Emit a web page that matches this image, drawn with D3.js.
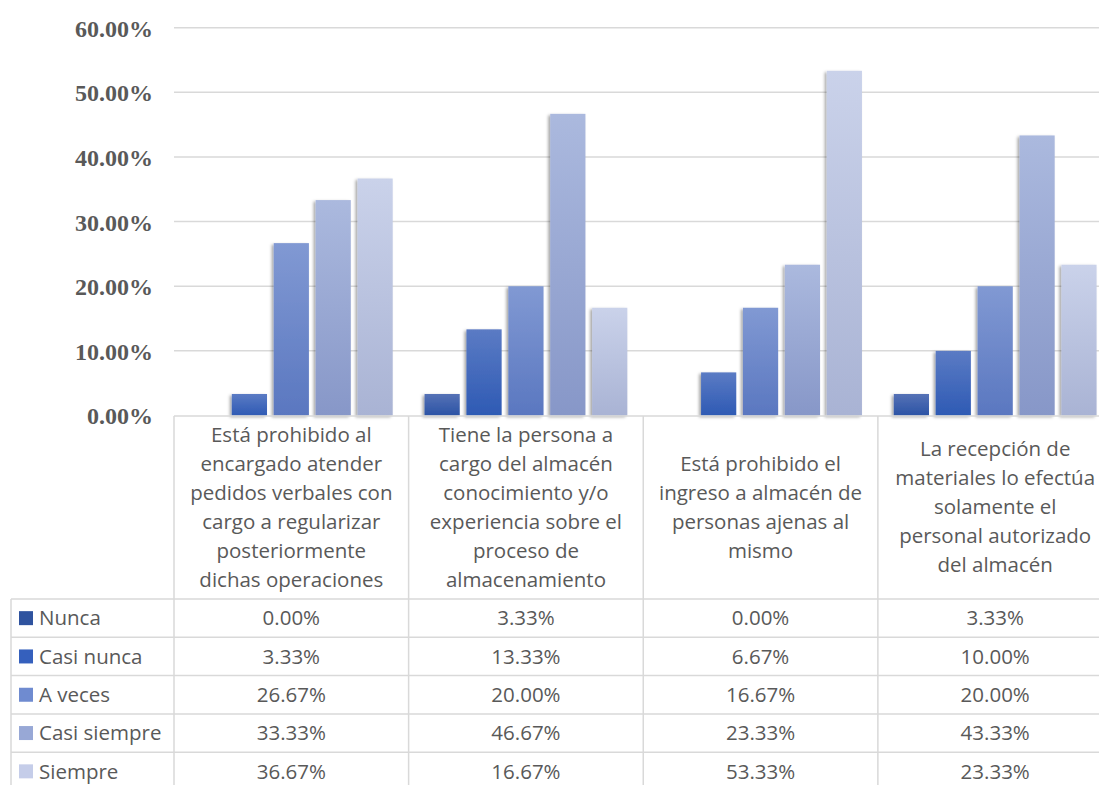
<!DOCTYPE html>
<html><head><meta charset="utf-8">
<script src="https://cdn.jsdelivr.net/npm/d3@7"></script>
<style>body{margin:0;background:#fff;} svg{display:block;}</style>
</head><body>
<svg id="chart" width="1099" height="785"></svg>
<script>
const categories = [
  ["Está prohibido al","encargado atender","pedidos verbales con","cargo a regularizar","posteriormente","dichas operaciones"],
  ["Tiene la persona a","cargo del almacén","conocimiento y/o","experiencia sobre el","proceso de","almacenamiento"],
  ["Está prohibido el","ingreso a almacén de","personas ajenas al","mismo"],
  ["La recepción de","materiales lo efectúa","solamente el","personal autorizado","del almacén"]
];
const seriesNames = ["Nunca","Casi nunca","A veces","Casi siempre","Siempre"];
const nunca       = [0.00, 3.33, 0.00, 3.33];
const casiNunca   = [3.33, 13.33, 6.67, 10.00];
const aVeces      = [26.67, 20.00, 16.67, 20.00];
const casiSiempre = [33.33, 46.67, 23.33, 43.33];
const siempre     = [36.67, 16.67, 53.33, 23.33];
const seriesValues = [nunca, casiNunca, aVeces, casiSiempre, siempre];
const yTicks = [0,10,20,30,40,50,60];

const gradTop    = ["#5672b6","#5b7bc4","#8199d3","#abb9de","#cad2ea"];
const gradBottom = ["#2b53a5","#2e5ab4","#5a77c0","#8797c8","#a9b3d4"];
const legendCol  = ["#2f539f","#3560bd","#6f8bd0","#98a8d6","#c5cde9"];

const svg = d3.select("#chart");
const left = 174, right = 1112.5, y0 = 415.5, y60 = 27.7;
const catTop = 416, tableTop = 599, rowH = 38.3, tableLeft = 11;

const x0 = d3.scaleBand().domain(d3.range(categories.length)).range([left, right]).padding(0);
const x1 = d3.scaleBand().domain(d3.range(seriesNames.length)).range([0, x0.bandwidth()])
  .paddingInner(0.16).paddingOuter(0.38);
const y = d3.scaleLinear().domain([0,60]).range([y0, y60]);

const defs = svg.append("defs");
seriesNames.forEach((s,i)=>{
  const g = defs.append("linearGradient").attr("id","g"+i).attr("x1",0).attr("y1",0).attr("x2",0).attr("y2",1);
  g.append("stop").attr("offset","0%").attr("stop-color",gradTop[i]);
  g.append("stop").attr("offset","100%").attr("stop-color",gradBottom[i]);
});
const f = defs.append("filter").attr("id","sh").attr("x","-30%").attr("y","-10%").attr("width","160%").attr("height","130%");
f.append("feDropShadow").attr("dx",-2).attr("dy",1.5).attr("stdDeviation",1.8).attr("flood-color","#000").attr("flood-opacity",0.35);

// gridlines
svg.append("g").selectAll("line").data(yTicks.filter(d=>d>0)).join("line")
  .attr("x1",left).attr("x2",1099).attr("y1",d=>y(d)).attr("y2",d=>y(d))
  .attr("stroke","#d9d9d9").attr("stroke-width",1.5);

// y axis labels
const yAxis = d3.axisLeft(y).tickValues(yTicks).tickFormat(d=>d3.format(".2f")(d)+"%").tickSize(0).tickPadding(0);
const ya = svg.append("g").attr("transform","translate(153,0)").call(yAxis);
ya.select(".domain").remove();
ya.selectAll("text").attr("font-family","'Liberation Serif', serif").attr("font-weight","bold")
  .attr("font-size","24px").attr("fill","#595959").attr("dy","0.35em");

// bars
const gBars = svg.append("g");
categories.forEach((c,ci)=>{
  seriesNames.forEach((s,si)=>{
    const v = seriesValues[si][ci];
    if (v <= 0) return;
    gBars.append("rect")
      .attr("x", x0(ci)+x1(si)).attr("width", x1.bandwidth())
      .attr("y", y(v)).attr("height", y0 - y(v))
      .attr("fill","url(#g"+si+")").attr("filter","url(#sh)");
  });
});

// table lines
const lineCol = "#d9d9d9", lw = 1.5;
const T = svg.append("g");
T.append("line").attr("x1",left).attr("x2",1099).attr("y1",catTop).attr("y2",catTop).attr("stroke",lineCol).attr("stroke-width",lw);
for (let r=0;r<=5;r++){
  T.append("line").attr("x1",tableLeft).attr("x2",1099).attr("y1",tableTop+r*rowH).attr("y2",tableTop+r*rowH)
   .attr("stroke",lineCol).attr("stroke-width",lw);
}
T.append("line").attr("x1",tableLeft).attr("x2",tableLeft).attr("y1",tableTop).attr("y2",785).attr("stroke",lineCol).attr("stroke-width",lw);
d3.range(categories.length).forEach(ci=>{
  T.append("line").attr("x1",x0(ci)).attr("x2",x0(ci)).attr("y1",catTop).attr("y2",785).attr("stroke",lineCol).attr("stroke-width",lw);
});

// category labels
const lh = 29, catMid = 514;
categories.forEach((lines,ci)=>{
  const cx = x0(ci)+x0.bandwidth()/2;
  const startB = catMid - (lines.length-1)*lh/2;
  const t = svg.append("text").attr("text-anchor","middle").attr("font-family","'Open Sans', sans-serif")
    .attr("font-size","20.5px").attr("fill","#595959");
  lines.forEach((l,li)=> t.append("tspan").attr("x",cx).attr("y",startB+li*lh).text(l));
});

// table rows
seriesNames.forEach((s,si)=>{
  const cy = tableTop + si*rowH + rowH/2;
  svg.append("rect").attr("x",19).attr("y",cy-7).attr("width",14).attr("height",14).attr("fill",legendCol[si]);
  svg.append("text").attr("x",39).attr("y",cy).attr("dy","0.35em").attr("font-family","'Open Sans', sans-serif")
    .attr("font-size","20.5px").attr("fill","#595959").text(s);
  seriesValues[si].forEach((v,ci)=>{
    svg.append("text").attr("x",x0(ci)+x0.bandwidth()/2).attr("y",cy).attr("dy","0.35em").attr("text-anchor","middle")
      .attr("font-family","'Open Sans', sans-serif").attr("font-size","20.5px").attr("fill","#595959")
      .text(d3.format(".2f")(v)+"%");
  });
});
</script>
</body></html>
